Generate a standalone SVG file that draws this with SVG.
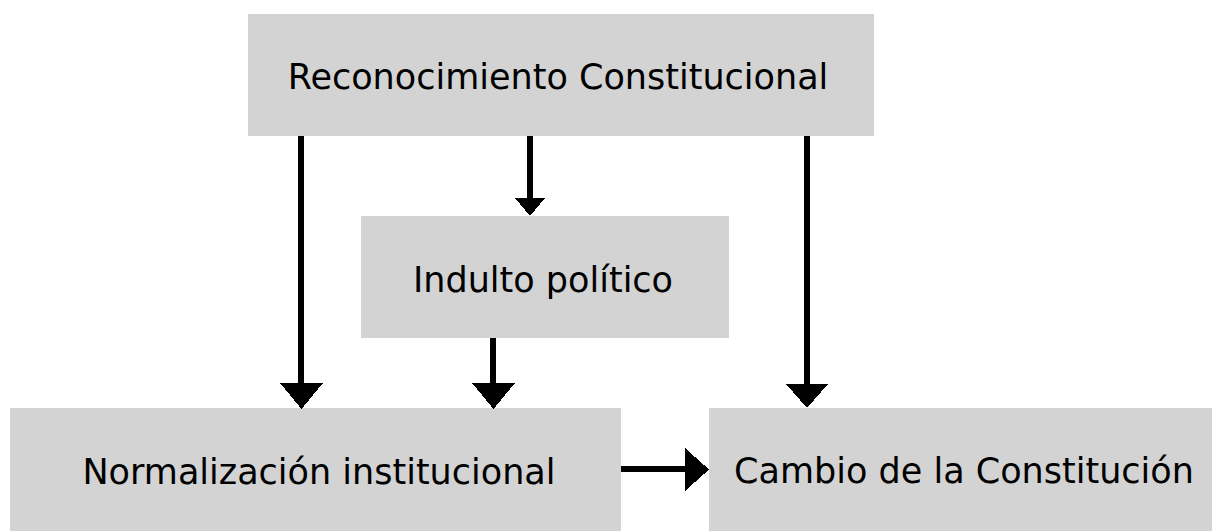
<svg xmlns="http://www.w3.org/2000/svg" width="1212" height="531" viewBox="0 0 1212 531">
<style>
.box{fill:#d3d3d3}
.lbl{font-family:"DejaVu Sans",Verdana,sans-serif;font-size:35px;fill:#000;text-anchor:middle}
.ln{stroke:#000;stroke-width:6;fill:none}
.hd{fill:#000;shape-rendering:crispEdges}
</style>
<rect width="1212" height="531" fill="#fff"/>
<g id="node-reconocimiento">
<rect class="box" x="248" y="14" width="626" height="122"/>
<text class="lbl" x="558" y="89">Reconocimiento Constitucional</text>
</g>
<g id="node-indulto">
<rect class="box" x="361" y="216" width="368" height="122"/>
<text class="lbl" x="543" y="292">Indulto político</text>
</g>
<g id="node-normalizacion">
<rect class="box" x="10" y="408" width="611" height="123"/>
<text class="lbl" x="319" y="484">Normalización institucional</text>
</g>
<g id="node-cambio">
<rect class="box" x="709" y="408" width="503" height="123"/>
<text class="lbl" x="964" y="483">Cambio de la Constitución</text>
</g>
<g id="connectors">
<line class="ln" x1="301" y1="136" x2="301" y2="385"/>
<polygon class="hd" points="280,383 323,383 301.5,409"/>
<line class="ln" x1="530" y1="136" x2="530" y2="200"/>
<polygon class="hd" points="515,198 545,198 530,216"/>
<line class="ln" x1="493" y1="338" x2="493" y2="385"/>
<polygon class="hd" points="472,383 515,383 493.5,409"/>
<line class="ln" x1="807" y1="136" x2="807" y2="386"/>
<polygon class="hd" points="786,384 828,384 807,408"/>
<line class="ln" x1="621" y1="469" x2="687" y2="469"/>
<polygon class="hd" points="685,448 685,491 709,469.5"/>
</g>
</svg>
